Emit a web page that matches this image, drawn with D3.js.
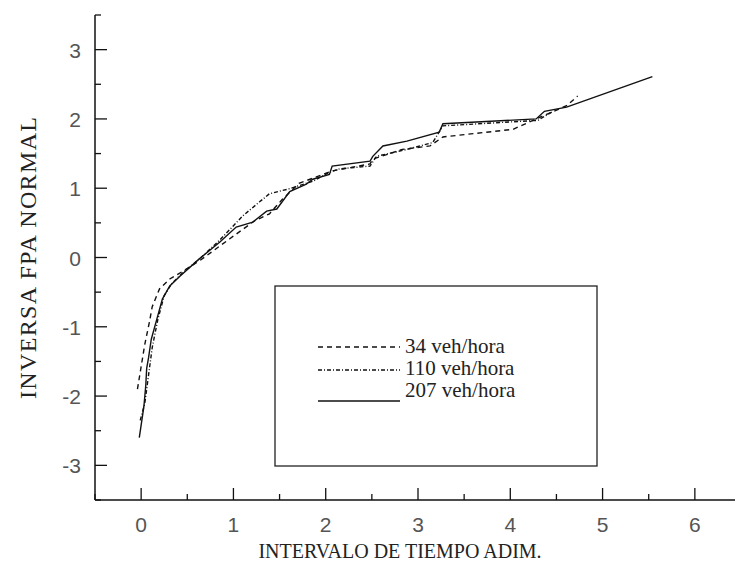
<!DOCTYPE html>
<html>
<head>
<meta charset="utf-8">
<script src="https://cdn.jsdelivr.net/npm/d3@7"></script>
<style>
  body { margin: 0; background: #fff; }
  svg { display: block; }
</style>
</head>
<body>
<div id="chart"></div>
<script>
const width = 735, height = 574;

// 34 veh/hora (dashed)
const x34 = [-0.04, 0.04, 0.09, 0.12, 0.2, 0.31, 0.45, 0.63, 0.96, 1.23, 1.39, 1.53, 1.71, 2.07, 2.48, 2.51, 2.83, 3.13, 3.27, 4.03, 4.28, 4.61, 4.73];
const y34 = [-1.9, -1.25, -0.93, -0.71, -0.45, -0.31, -0.2, -0.05, 0.27, 0.53, 0.63, 0.84, 1.07, 1.25, 1.35, 1.42, 1.56, 1.61, 1.74, 1.85, 2.0, 2.19, 2.33];

// 110 veh/hora (dash-dot)
const x110 = [-0.01, 0.04, 0.08, 0.12, 0.18, 0.25, 0.33, 0.45, 0.65, 0.85, 1.03, 1.1, 1.28, 1.39, 1.6, 1.86, 2.04, 2.15, 2.48, 2.55, 2.88, 3.16, 3.27, 4.3, 4.45];
const y110 = [-2.35, -2.1, -1.7, -1.3, -0.9, -0.55, -0.38, -0.22, 0.0, 0.25, 0.5, 0.6, 0.8, 0.92, 0.99, 1.1, 1.23, 1.28, 1.32, 1.46, 1.56, 1.66, 1.9, 1.98, 2.1];

// 207 veh/hora (solid)
const x207 = [-0.02, 0.03, 0.05, 0.06, 0.08, 0.11, 0.17, 0.23, 0.31, 0.42, 0.63, 0.85, 1.03, 1.21, 1.36, 1.47, 1.61, 1.79, 1.86, 2.04, 2.07, 2.48, 2.51, 2.62, 2.88, 3.23, 3.27, 4.28, 4.37, 4.61, 5.54];
const y207 = [-2.6, -2.15, -1.85, -1.6, -1.45, -1.18, -0.89, -0.6, -0.41, -0.27, -0.02, 0.22, 0.44, 0.51, 0.67, 0.7, 0.95, 1.06, 1.13, 1.2, 1.32, 1.39, 1.46, 1.61, 1.68, 1.81, 1.93, 2.0, 2.11, 2.17, 2.61];

const seriesNames = ["34 veh/hora", "110 veh/hora", "207 veh/hora"];
const xTicks = [0, 1, 2, 3, 4, 5, 6];
const yTicks = [-3, -2, -1, 0, 1, 2, 3];

const dashes = ["5,4", "4,2,1,2", null];

const series = [
  { name: seriesNames[0], pts: x34.map((d, i) => [d, y34[i]]), dash: dashes[0] },
  { name: seriesNames[1], pts: x110.map((d, i) => [d, y110[i]]), dash: dashes[1] },
  { name: seriesNames[2], pts: x207.map((d, i) => [d, y207[i]]), dash: dashes[2] }
];

const serif = "'Liberation Serif', 'Times New Roman', serif";
const sans = "'Liberation Sans', Arial, sans-serif";

var svg = d3.select("#chart")
  .append("svg")
  .attr("width", width)
  .attr("height", height);

var x = d3.scaleLinear().domain([-0.5, 6.5]).range([95, 741]);
var y = d3.scaleLinear().domain([-3.5, 3.5]).range([500, 15]);

// axes lines
svg.append("line")
  .attr("x1", x(-0.5)).attr("x2", x(6.5))
  .attr("y1", y(-3.5)).attr("y2", y(-3.5))
  .attr("stroke", "#111").attr("stroke-width", 1.5);
svg.append("line")
  .attr("x1", x(-0.5)).attr("x2", x(-0.5))
  .attr("y1", y(-3.5)).attr("y2", y(3.5))
  .attr("stroke", "#111").attr("stroke-width", 1.5);

// x ticks (inward)
var xMinor = d3.range(-0.5, 6.6, 0.5).filter(d => !Number.isInteger(d));
svg.selectAll(".xmaj").data(xTicks).enter().append("line")
  .attr("x1", d => x(d)).attr("x2", d => x(d))
  .attr("y1", y(-3.5)).attr("y2", y(-3.5) - 12)
  .attr("stroke", "#111").attr("stroke-width", 1.3);
svg.selectAll(".xmin").data(xMinor).enter().append("line")
  .attr("x1", d => x(d)).attr("x2", d => x(d))
  .attr("y1", y(-3.5)).attr("y2", y(-3.5) - 6)
  .attr("stroke", "#111").attr("stroke-width", 1.3);

// y ticks (inward)
var yMinor = d3.range(-3.5, 3.6, 0.5).filter(d => !Number.isInteger(d));
svg.selectAll(".ymaj").data(yTicks).enter().append("line")
  .attr("x1", x(-0.5)).attr("x2", x(-0.5) + 12)
  .attr("y1", d => y(d)).attr("y2", d => y(d))
  .attr("stroke", "#111").attr("stroke-width", 1.3);
svg.selectAll(".ymin").data(yMinor).enter().append("line")
  .attr("x1", x(-0.5)).attr("x2", x(-0.5) + 6)
  .attr("y1", d => y(d)).attr("y2", d => y(d))
  .attr("stroke", "#111").attr("stroke-width", 1.3);

// tick labels
svg.selectAll(".xlab").data(xTicks).enter().append("text")
  .attr("x", d => x(d)).attr("y", 532)
  .attr("text-anchor", "middle")
  .style("font-family", sans)
  .style("font-size", "21px").style("fill", "#555")
  .text(d => d);
svg.selectAll(".ylab").data(yTicks).enter().append("text")
  .attr("x", 81).attr("y", d => y(d) + 8)
  .attr("text-anchor", "end")
  .style("font-family", sans)
  .style("font-size", "21px").style("fill", "#555")
  .text(d => d);

// axis titles
svg.append("text")
  .attr("x", 400).attr("y", 558)
  .attr("text-anchor", "middle")
  .style("font-family", serif)
  .style("font-size", "20px").style("fill", "#222")
  .text("INTERVALO DE TIEMPO ADIM.");
svg.append("text")
  .attr("transform", "translate(36,258)rotate(-90)")
  .attr("text-anchor", "middle")
  .attr("textLength", 282)
  .attr("lengthAdjust", "spacing")
  .style("font-family", serif)
  .style("font-size", "24px").style("fill", "#222")
  .text("INVERSA FPA NORMAL");

// curves
var line = d3.line().x(d => x(d[0])).y(d => y(d[1]));
svg.selectAll(".curve").data(series).enter().append("path")
  .attr("d", d => line(d.pts))
  .attr("fill", "none")
  .attr("stroke", "#111")
  .attr("stroke-width", 1.4)
  .attr("stroke-dasharray", d => d.dash);

// legend
var legend = svg.append("g");
legend.append("rect")
  .attr("x", 275).attr("y", 286)
  .attr("width", 322).attr("height", 180)
  .attr("fill", "white")
  .attr("stroke", "#222").attr("stroke-width", 1.3);

var legY = [347, 370, 401];
var txtY = [353, 375, 397];
series.forEach((s, i) => {
  legend.append("line")
    .attr("x1", 318).attr("x2", 400)
    .attr("y1", legY[i]).attr("y2", legY[i])
    .attr("stroke", "#111").attr("stroke-width", 1.3)
    .attr("stroke-dasharray", s.dash);
  legend.append("text")
    .attr("x", 405).attr("y", txtY[i])
    .style("font-family", serif)
    .style("font-size", "21px").style("fill", "#222")
    .text(s.name);
});
</script>
</body>
</html>
